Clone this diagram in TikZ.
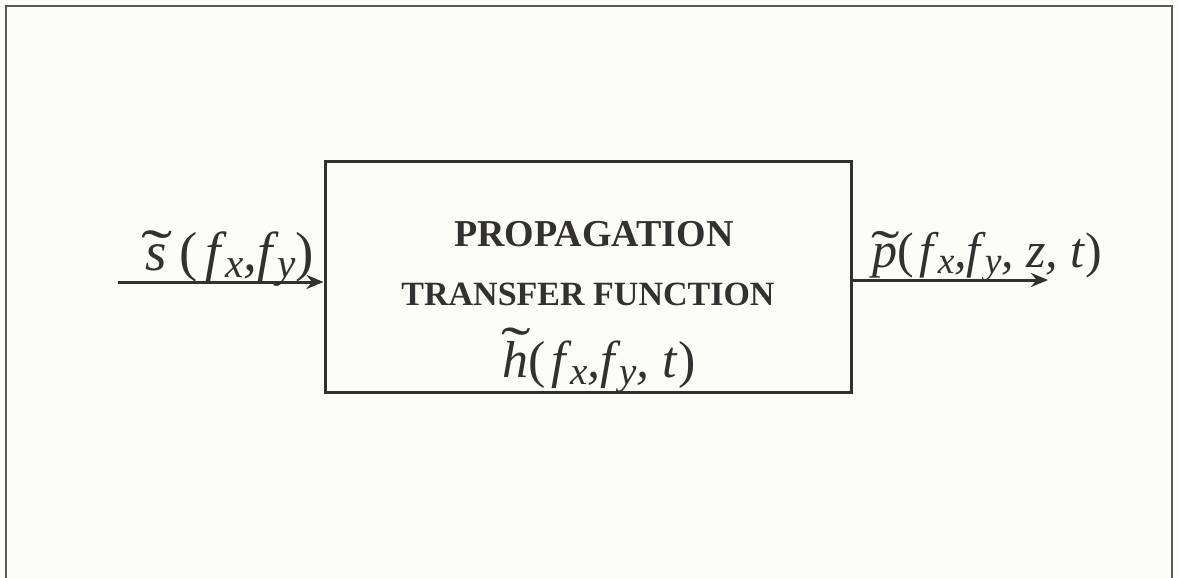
\documentclass[tikz,border=0pt]{standalone}
\usepackage{fontspec}
\setmainfont{Liberation Serif}
\usetikzlibrary{arrows.meta}
\definecolor{ink}{HTML}{333030}
\definecolor{paper}{HTML}{FDFDF8}
\newcommand\sbx[1]{\kern0.08em\raisebox{-0.3ex}{\scalebox{0.75}{\itshape #1}}}
\newcommand\wtil[3]{\ooalign{#3\cr\hidewidth\kern#2\raisebox{#1}{\scalebox{1.7}[1.1]{\upshape\char"02DC}}\hidewidth\cr}}
\newcommand\lp{\textup{(}}
\newcommand\rp{\textup{)}}
\tikzset{
  frameline/.style={draw=ink!80, line width=2pt},
  blockbox/.style={draw=ink, line width=3pt, minimum width=526pt, minimum height=231pt, inner sep=0pt},
  sigarrow/.style={draw=ink, line width=3pt, -{Stealth[length=17pt,width=14pt]}},
  boldtxt/.style={text=ink, inner sep=0pt},
  mathtxt/.style={text=ink, inner sep=0pt}
}
\begin{document}
\begin{tikzpicture}[x=1pt,y=-1pt]
\fill[paper] (0,0) rectangle (1178,578);
\useasboundingbox (0,0) rectangle (1178,578);
\draw[frameline] (6,578) -- (6,6) -- (1172,6) -- (1172,578);
\node[blockbox] (box) at (588,277) {};
\node[boldtxt, anchor=base, font=\fontsize{38}{40}\selectfont\bfseries] (l1) at (594,246) {PROPAGATION};
\node[boldtxt, anchor=base, font=\fontsize{34}{40}\selectfont\bfseries] (l2) at (588,305) {TRANSFER FUNCTION};
\node[mathtxt, anchor=base, font=\fontsize{52}{58}\selectfont\itshape] (hf) at (599,377) {\wtil{0.2em}{0.04em}{h}\lp\hspace{0.12em}f\sbx{x},f\sbx{y}, t\rp};
\coordinate (in) at (118,282);
\coordinate (out) at (1048,280);
\node[mathtxt, anchor=base west, font=\fontsize{55}{58}\selectfont\itshape] (sl) at (145,270) {\wtil{-0.02em}{0.04em}{s}\hspace{0.24em}\lp\hspace{0.14em}f\sbx{x},f\sbx{y}\rp};
\node[mathtxt, anchor=base west, font=\fontsize{50}{54}\selectfont\itshape] (pl) at (872,267) {\wtil{-0.02em}{0.02em}{p}\lp\hspace{0.12em}f\sbx{x},f\sbx{y}, z, t\rp};
\draw[sigarrow] (in) -- (box.west |- in);
\draw[sigarrow] (box.east |- out) -- (out);
\end{tikzpicture}
\end{document}
